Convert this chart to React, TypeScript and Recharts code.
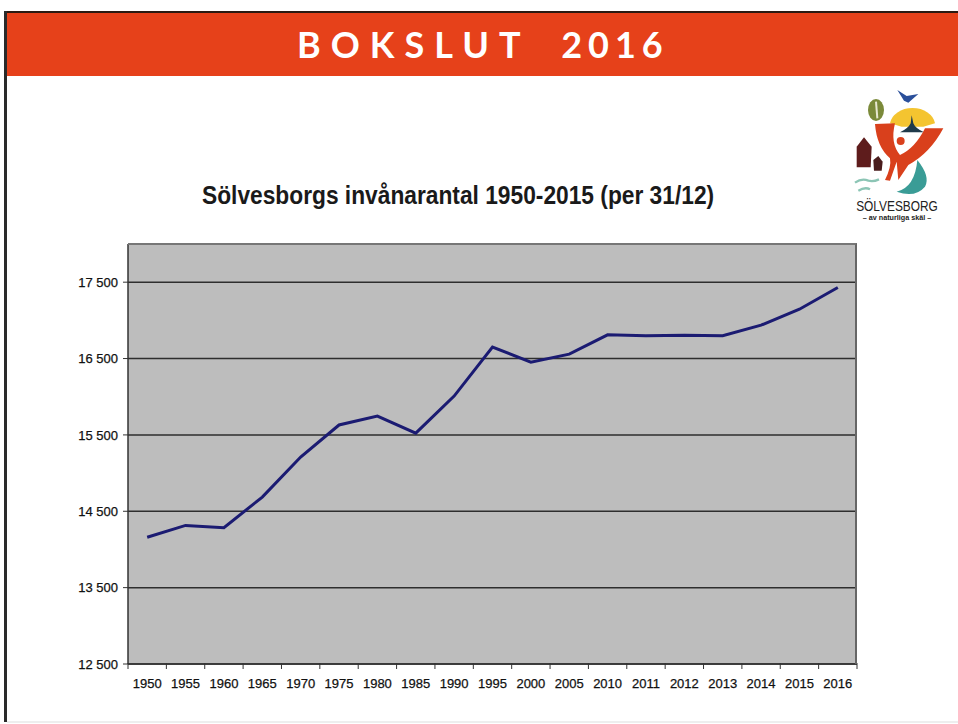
import { LineChart, Line, XAxis, YAxis, CartesianGrid } from "recharts";

const years = ["1950", "1955", "1960", "1965", "1970", "1975", "1980", "1985", "1990", "1995", "2000", "2005", "2010", "2011", "2012", "2013", "2014", "2015", "2016"];
const residents = [14160, 14315, 14285, 14686, 15210, 15630, 15746, 15523, 16008, 16650, 16453, 16558, 16810, 16800, 16806, 16800, 16937, 17146, 17430];
const yTicks = [12500, 13500, 14500, 15500, 16500, 17500];

const data = years.map((year, i) => ({ year, residents: residents[i] }));

const plotWidth = 729;
const axisFont = "'Liberation Sans', Arial, sans-serif";

// ticks sit between the categories, the labels stay centered
function YearTick({ x, y, payload }: any) {
  const half = plotWidth / years.length / 2;
  return (
    <g>
      <line x1={x - half} x2={x - half} y1={y - 9} y2={y - 3} stroke="#333" />
      {payload.value === "2016" && <line x1={x + half} x2={x + half} y1={y - 9} y2={y - 3} stroke="#333" />}
      <text x={x} y={y + 16} textAnchor="middle" fontSize={13} fontFamily={axisFont} fill="#111" stroke="#111" strokeWidth={0.25}>
        {payload.value}
      </text>
    </g>
  );
}

// rough copy of the municipal logo, coordinates follow a 354x450 crop
function Logo() {
  return (
    <svg width={118} height={150} viewBox="0 0 354 450" style={{ position: "absolute", left: 840, top: 80 }}>
      <path d="M172 30 L200 48 L235 42 L205 68 L192 62 Z" fill="#2a4f9a" />
      <ellipse cx={108} cy={90} rx={24} ry={33} fill="#7b8a3a" />
      <path d="M108 65 L112 115" stroke="#e8e8d0" strokeWidth={6} />
      <path d="M150 130 A68 52 0 0 1 285 130 L250 140 L185 140 Z" fill="#f4c430" />
      <path d="M180 157 Q205 145 212 130 L215 106 L220 130 Q226 145 252 157 Z" fill="#1f3a4a" />
      <path d="M105 132 L165 130 Q150 190 180 225 Q225 205 255 145 L310 145 Q270 220 205 255 L175 300 L170 245 L150 302 L135 300 Q155 260 150 235 Q110 200 105 132 Z" fill="#d9401c" />
      <circle cx={182} cy={183} r={12} fill="#d9401c" />
      <path d="M50 200 L72 172 L95 200 L92 262 L50 262 Z" fill="#5e1c1c" />
      <path d="M100 240 L115 228 L128 245 L125 272 L102 272 Z" fill="#4a1c1c" />
      <path d="M170 335 Q225 322 232 240 Q272 290 255 320 Q225 355 170 335 Z" fill="#3a9c96" />
      <path d="M45 308 q20 -14 40 -6 q15 4 32 -4 M55 332 q20 -12 35 -4" stroke="#8cc5b5" strokeWidth={7} fill="none" />
      <text x={171} y={392} textAnchor="middle" fontSize={42} fontFamily={axisFont} fill="#222" textLength={245} lengthAdjust="spacingAndGlyphs">
        SÖLVESBORG
      </text>
      <text x={171} y={420} textAnchor="middle" fontSize={22} fontWeight="bold" fontFamily={axisFont} fill="#222" textLength={205} lengthAdjust="spacingAndGlyphs">
        – av naturliga skäl –
      </text>
    </svg>
  );
}

export default function App() {
  return (
    <div style={{ position: "absolute", left: 0, top: 0, width: 958, height: 724, overflow: "hidden", background: "#fff" }}>
      <div style={{ position: "absolute", left: 4, top: 11, width: 954, height: 65, background: "#e6411a", borderTop: "2px solid #2b1a12", boxSizing: "border-box" }} />
      <div style={{ position: "absolute", left: 4, top: 11, width: 3, height: 711, background: "#2a2a2a" }} />
      <div style={{ position: "absolute", left: 7, top: 721, width: 951, height: 2, background: "#eeeeee" }} />
      <div style={{ position: "absolute", left: 297, top: 22, color: "#fff", fontFamily: "Lato, sans-serif", fontWeight: 700, fontSize: 36, lineHeight: "44px", letterSpacing: 10, whiteSpace: "pre" }}>
        BOKSLUT <span style={{ marginLeft: 13, letterSpacing: 6 }}>2016</span>
      </div>
      <div style={{ position: "absolute", left: 202, top: 180, color: "#1a1a1a", fontFamily: axisFont, fontWeight: 700, fontSize: 25, lineHeight: "30px", whiteSpace: "nowrap", transform: "scaleX(0.91)", transformOrigin: "left center" }}>
        Sölvesborgs invånarantal 1950-2015 (per 31/12)
      </div>
      <Logo />
      <div style={{ position: "absolute", left: 0, top: 0 }}>
        <LineChart width={958} height={724} data={data} margin={{ top: 244, right: 101, bottom: 0, left: 0 }}>
          <CartesianGrid vertical={false} stroke="#2e2e2e" strokeWidth={1.5} fill="#bdbdbd" syncWithTicks />
          <XAxis dataKey="year" scale="band" height={60} interval={0} tick={<YearTick />} tickLine={false} axisLine={{ stroke: "#333", strokeWidth: 1.5 }} />
          <YAxis
            width={128}
            domain={[12500, 18000]}
            ticks={yTicks}
            tickFormatter={(v: number) => `${Math.floor(v / 1000)} ${String(v % 1000).padStart(3, "0")}`}
            tick={{ fontSize: 13, fontFamily: axisFont, fill: "#111", stroke: "#111", strokeWidth: 0.25 }}
            tickSize={5}
            tickMargin={5}
            axisLine={{ stroke: "#333", strokeWidth: 1.5 }}
            tickLine={{ stroke: "#333" }}
          />
          <Line dataKey="residents" type="linear" stroke="#1b1b72" strokeWidth={3} dot={false} isAnimationActive={false} />
        </LineChart>
      </div>
      <div style={{ position: "absolute", left: 128, top: 243, width: 729, height: 421, borderTop: "2px solid #777", borderRight: "2px solid #666", boxSizing: "border-box" }} />
    </div>
  );
}
